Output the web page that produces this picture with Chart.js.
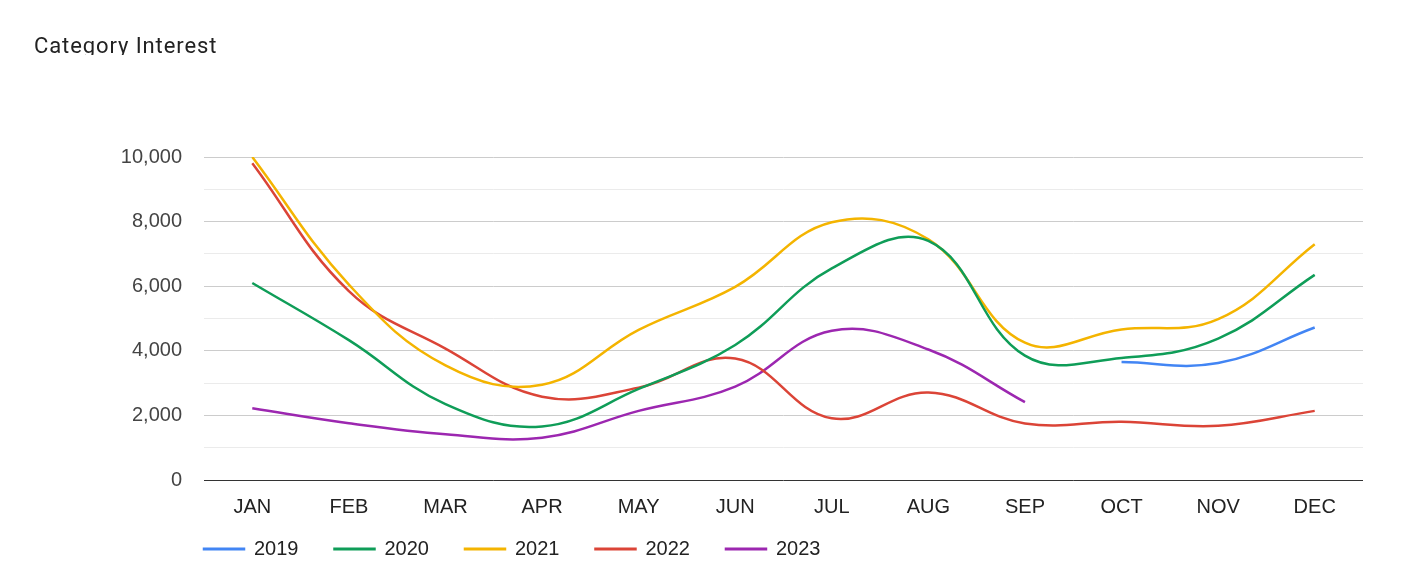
<!DOCTYPE html>
<html>
<head>
<meta charset="utf-8">
<script src="https://cdn.jsdelivr.net/npm/chart.js@4.4.1/dist/chart.umd.min.js"></script>
<style>
  html, body { margin: 0; padding: 0; background: #fff; }
  #wrap { position: relative; width: 1418px; height: 574px; }
  #titulo {
    position: absolute; left: 34px; top: 33px; height: 21.5px; overflow: hidden;
    font-family: Roboto, sans-serif; font-size: 22px; letter-spacing: 0.9px;
    color: #222; line-height: normal; white-space: nowrap;
  }
</style>
</head>
<body>
<div id="wrap">
  <div id="titulo">Category Interest</div>
  <canvas id="chartInteres"></canvas>
</div>
<script>
const meses = ['JAN', 'FEB', 'MAR', 'APR', 'MAY', 'JUN', 'JUL', 'AUG', 'SEP', 'OCT', 'NOV', 'DEC'];
const serie2019 = [null, null, null, null, null, null, null, null, null, 3650, 3620, 4720];
const serie2020 = [6100, 4330, 2350, 1660, 2820, 4180, 6550, 7400, 3850, 3780, 4380, 6350];
const serie2021 = [10000, 6050, 3550, 2950, 4650, 5980, 7980, 7450, 4250, 4660, 4980, 7300];
const serie2022 = [9810, 5850, 4070, 2580, 2860, 3760, 1910, 2710, 1750, 1800, 1680, 2140];
const serie2023 = [2220, 1760, 1420, 1310, 2140, 2890, 4620, 4040, 2410, null, null, null];
const anios = ['2019', '2020', '2021', '2022', '2023'];
const colores = ['#4285F4', '#0F9D58', '#F4B400', '#DB4437', '#9C27B0'];

const fuente = 'Liberation Sans, Arial, sans-serif';
const paddingLeyenda = 36;

function armarSerie(i, valores) {
    return {
        label: anios[i],
        data: valores,
        borderColor: colores[i],
        backgroundColor: colores[i],
        borderWidth: 2.5,
        tension: 0.4,
        pointRadius: 0,
        pointHoverRadius: 0,
        fill: false,
        spanGaps: false
    };
}

// mover la leyenda: que empiece en el borde del area y quede debajo de los meses
const ajusteLeyenda = {
    id: 'ajusteLeyenda',
    afterLayout(chart) {
        const leyenda = chart.legend;
        if (leyenda) {
            leyenda.left -= paddingLeyenda;
            const desplazar = leyenda.top + 45 - 548;
            leyenda.top -= desplazar;
            leyenda.bottom = 574;
            leyenda.height = leyenda.bottom - leyenda.top;
        }
    }
};

const ctx = document.getElementById('chartInteres').getContext('2d');
const grafico = new Chart(ctx, {
    type: 'line',
    data: {
        labels: meses,
        datasets: [
            armarSerie(0, serie2019),
            armarSerie(1, serie2020),
            armarSerie(2, serie2021),
            armarSerie(3, serie2022),
            armarSerie(4, serie2023)
        ]
    },
    options: {
        responsive: true,
        maintainAspectRatio: false,
        animation: false,
        layout: {
            padding: { top: 157, left: 120, right: 55, bottom: 8 }
        },
        scales: {
            x: {
                offset: true,
                grid: { display: false },
                border: { display: false },
                ticks: {
                    padding: 7,
                    color: '#222',
                    font: { family: fuente, size: 20 },
                    maxRotation: 0
                }
            },
            y: {
                min: 0,
                max: 10000,
                afterFit(scale) { scale.width = 84; },
                border: { display: false },
                grid: {
                    drawTicks: false,
                    lineWidth: 1,
                    color: function (c) {
                        const v = c.tick.value;
                        if (v === 0) return '#333';
                        return v % 2000 === 0 ? '#cccccc' : '#ebebeb';
                    }
                },
                ticks: {
                    stepSize: 1000,
                    padding: 22,
                    color: '#444',
                    font: { family: fuente, size: 20 },
                    callback: function (v) {
                        return v % 2000 === 0 ? v.toLocaleString('en-US') : '';
                    }
                }
            }
        },
        plugins: {
            legend: {
                position: 'bottom',
                align: 'start',
                fullSize: false,
                labels: {
                    boxWidth: 40,
                    boxHeight: 0.5,
                    padding: paddingLeyenda,
                    color: '#222',
                    font: { family: fuente, size: 20 }
                }
            },
            tooltip: { enabled: false }
        }
    },
    plugins: [ajusteLeyenda]
});

// la leyenda ocupa menos alto para que el area llegue hasta y = 480
const fitOriginal = grafico.legend.fit;
grafico.legend.fit = function () {
    fitOriginal.call(this);
    this.height = 40;
};
grafico.update();
</script>
</body>
</html>
